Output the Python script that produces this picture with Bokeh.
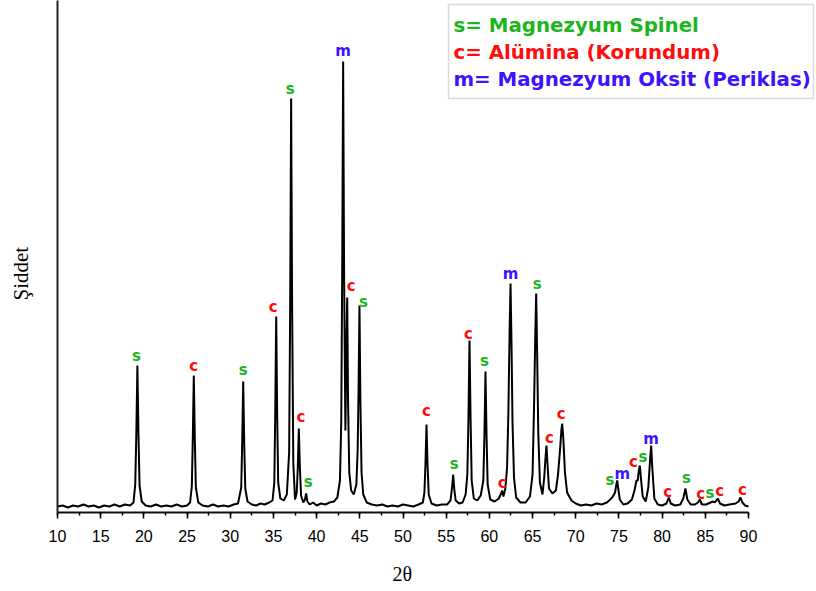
import math
from bokeh.plotting import figure
from bokeh.models import (Range1d, LinearAxis, Label, BoxAnnotation, ColumnDataSource,
                          SingleIntervalTicker, FixedTicker, Title)
from bokeh.core.properties import value
from bokeh.embed import file_html
from bokeh.resources import INLINE

# ---------------- data ----------------
two_theta = [
    10.0, 10.6, 11.2, 11.8, 12.4, 13.0, 13.6, 14.2, 14.8, 15.4, 16.0, 16.6, 17.2, 17.8, 18.4,
    18.8, 19.0, 19.13, 19.25, 19.37, 19.5, 19.75,
    20.2, 20.8, 21.4, 22.0, 22.6, 23.2, 23.8, 24.4, 25.0,
    25.35, 25.55, 25.66, 25.78, 25.9, 26.02, 26.3,
    26.8, 27.4, 28.0, 28.6, 29.2, 29.8, 30.4, 30.9,
    31.27, 31.38, 31.5, 31.62, 31.74, 32.0,
    32.5, 33.0, 33.5, 34.0, 34.5, 34.9,
    35.1, 35.21, 35.32, 35.43, 35.55, 35.8, 36.2, 36.55,
    36.82, 36.94, 37.05, 37.16, 37.3, 37.5,
    37.7, 37.82, 37.94, 38.06, 38.2, 38.45,
    38.65, 38.79, 38.93, 39.2, 39.6, 40.0, 40.5, 41.0, 41.5, 42.0, 42.4,
    42.7, 42.85, 42.96, 43.07, 43.18, 43.33, 43.44, 43.54, 43.64, 43.78, 44.0, 44.3,
    44.6, 44.75, 44.86, 44.96, 45.07, 45.2, 45.4, 45.8,
    46.4, 47.0, 47.6, 48.2, 48.8, 49.4, 50.0, 50.6, 51.2, 51.8,
    52.3, 52.48, 52.6, 52.72, 52.84, 52.98, 53.3,
    53.9, 54.5, 55.1, 55.5, 55.68, 55.81, 55.94, 56.1, 56.5, 56.9,
    57.25, 57.45, 57.58, 57.7, 57.82, 57.95, 58.2, 58.6,
    59.0, 59.3, 59.43, 59.55, 59.67, 59.8, 60.1, 60.6,
    61.1, 61.35, 61.48, 61.62, 61.85,
    62.05, 62.2, 62.34, 62.45, 62.56, 62.68, 62.85, 63.1, 63.6, 64.2,
    64.7, 65.0, 65.18, 65.31, 65.42, 65.53, 65.66, 65.85,
    66.15, 66.35, 66.5, 66.61, 66.72, 66.9, 67.3,
    67.7, 67.95, 68.2, 68.33, 68.43, 68.56, 68.75, 69.0, 69.5,
    70.0, 70.6, 71.2, 71.8, 72.4, 73.0, 73.6,
    74.0, 74.3, 74.55, 74.7, 74.8, 74.92, 75.1, 75.5, 76.0,
    76.5, 76.8, 77.03, 77.18, 77.3, 77.42, 77.55, 77.75, 78.1,
    78.4, 78.6, 78.73, 78.86, 79.1, 79.5, 80.0, 80.5,
    80.77, 81.0, 81.5, 82.1, 82.45, 82.7, 82.92, 83.3, 83.8,
    84.15, 84.36, 84.6, 85.1, 85.6, 85.9, 86.1, 86.44, 86.7, 87.2,
    87.8, 88.5, 88.85, 89.07, 89.3, 89.6, 90.0,
]
intensity = [
    6, 7, 5, 7, 6, 8, 6, 7, 5, 7, 6, 8, 6, 8, 7,
    10, 28, 80, 147, 80, 27, 11,
    7, 6, 8, 6, 7, 6, 8, 6, 7,
    10, 26, 72, 137, 72, 25, 10,
    7, 6, 8, 6, 7, 6, 8, 9,
    25, 68, 131, 68, 24, 11,
    8, 7, 9, 8, 10, 12,
    30, 100, 196, 100, 30, 14, 12, 18,
    60, 210, 414, 210, 50, 13,
    20, 45, 84, 45, 17, 10,
    13, 19, 11, 8, 10, 7, 9, 8, 10, 11, 15,
    32, 90, 240, 451, 240, 82, 160, 215, 110, 40, 22, 18,
    28, 62, 125, 207, 110, 40, 18, 10,
    8, 7, 8, 6, 7, 6, 8, 7, 6, 8,
    10, 20, 48, 88, 48, 18, 9,
    7, 8, 8, 12, 25, 38, 23, 12, 9, 10,
    18, 38, 95, 172, 95, 32, 14, 12,
    17, 32, 78, 141, 78, 28, 13, 11,
    14, 19, 22, 16, 24,
    45, 100, 180, 229, 170, 90, 35, 15, 10, 10,
    16, 38, 110, 175, 219, 160, 80, 30,
    18, 35, 55, 67, 50, 24, 19,
    22, 38, 65, 82, 89, 74, 40, 20, 12,
    9, 7, 8, 7, 9, 8, 10,
    13, 16, 20, 28, 32, 24, 13, 8, 9,
    13, 22, 32, 32, 42, 47, 34, 16, 11,
    25, 52, 67, 45, 14, 8, 7, 9,
    15, 9, 7, 8, 14, 24, 13, 8, 8,
    10, 13, 8, 8, 10, 11, 10, 14, 9, 7,
    8, 9, 11, 15, 10, 7, 6,
]

# labelled reflections
peak_2theta = [19.25, 25.78, 31.5, 35.32, 37.05, 37.94, 38.79, 43.07, 43.54, 44.96,
               52.72, 55.81, 57.7, 59.55, 61.48, 62.45, 65.42, 66.61, 68.43, 74.3,
               74.8, 77.03, 77.42, 78.73, 80.77, 82.7, 84.36, 85.9, 86.44, 89.07]
peak_top = [147, 137, 131, 196, 414, 84, 19, 451, 215, 207,
            88, 38, 172, 141, 22, 229, 219, 67, 89, 16,
            32, 32, 47, 67, 15, 24, 13, 11, 14, 15]
peak_phase = ["s", "c", "s", "c", "s", "c", "s", "m", "c", "s",
              "c", "s", "c", "s", "c", "m", "s", "c", "c", "s",
              "m", "c", "s", "m", "c", "s", "c", "s", "c", "c"]

phase_codes = ["s", "c", "m"]
phase_names = ["s= Magnezyum Spinel", "c= Alümina (Korundum)", "m= Magnezyum Oksit (Periklas)"]

x_ticks_start, x_ticks_end, x_tick_step = 10, 90, 5
x_label = "2θ"
y_label = "Şiddet"

# ---------------- layout / style ----------------
phase_colors = {"s": "#1db51d", "c": "#ff0d0d", "m": "#3a14ff"}
W, H = 816, 591
B_LEFT, B_RIGHT, B_TOP, B_BOTTOM = 57, 2, 0, 79
AXIS_END_PX = 748
FRAME_W = W - B_LEFT - B_RIGHT
FRAME_H = H - B_TOP - B_BOTTOM
px_per_x = (AXIS_END_PX - B_LEFT) / (x_ticks_end - x_ticks_start)
x_end = x_ticks_start + FRAME_W / px_per_x
y_start, y_end = 0, FRAME_H  # 1 intensity unit == 1 px


def X(px):  # canvas px -> data x
    return x_ticks_start + (px - B_LEFT) / px_per_x


def Y(py):  # canvas py -> data y
    return y_end - (py - B_TOP)


# label nudges in screen px (dx right, dy up from peak top)
label_dx = [-1, 0, 0, -3, -1, 2, 2, 0, 4, 4, 0, 1, -1, -1, 0, 0, 1, 3, -1, -3,
            5, -3, 3, 0, -1, 1, 1, -3, 2, 2]
label_dy = [10, 10, 12, 10, 10, 12, 12, 11, 12, 4, 14, 11, 7, 11, 8, 10, 10, 8, 10, 17,
            7, 19, 9, 7, 6, 11, 6, 9, 8, 8]

p = figure(width=W, height=H, output_backend="svg", toolbar_location=None,
           x_range=Range1d(x_ticks_start, x_end), y_range=Range1d(y_start, y_end),
           x_axis_type=None, y_axis_type=None,
           min_border_left=B_LEFT, min_border_right=B_RIGHT,
           min_border_top=B_TOP, min_border_bottom=B_BOTTOM)
p.outline_line_color = None
p.background_fill_color = "white"
p.border_fill_color = "white"

xaxis = LinearAxis(bounds=(x_ticks_start, x_ticks_end),
                   ticker=SingleIntervalTicker(interval=x_tick_step, num_minor_ticks=2))
xaxis.axis_line_width = 2
xaxis.axis_line_color = "#111111"
xaxis.major_tick_line_width = 1.5
xaxis.minor_tick_line_width = 1.5
xaxis.major_tick_in = 0
xaxis.major_tick_out = 6
xaxis.minor_tick_in = 0
xaxis.minor_tick_out = 3
xaxis.major_label_text_font = "Liberation Sans"
xaxis.major_label_text_font_size = "16px"
xaxis.major_label_text_color = "black"
xaxis.major_label_standoff = 11
# blank spacer label: pushes the title panel further from the axis
xaxis.axis_label = " "
xaxis.axis_label_text_font_size = "10px"
xaxis.axis_label_standoff = 2
p.add_layout(xaxis, "below")

yaxis = LinearAxis(ticker=FixedTicker(ticks=[]))
yaxis.axis_line_width = 2
yaxis.axis_line_color = "#222222"
yaxis.major_tick_out = 0
yaxis.major_tick_in = 0
yaxis.minor_tick_out = 0
yaxis.minor_tick_in = 0
yaxis.major_label_text_font_size = "0px"
yaxis.major_label_standoff = 0
yaxis.axis_label = " "
yaxis.axis_label_text_font_size = "12px"
yaxis.axis_label_standoff = 5
p.add_layout(yaxis, "left")

# axis titles as side titles (annotations inside the frame get clipped)
p.add_layout(Title(text=x_label, align="left", offset=392 - B_LEFT,
                   text_font="Liberation Serif", text_font_size="20px",
                   text_font_style="normal", text_color="black",
                   vertical_align="top", standoff=4), "below")
p.add_layout(Title(text=y_label, align="left", offset=(H - B_BOTTOM) - 300,
                   text_font="Liberation Serif", text_font_size="21px",
                   text_font_style="normal", text_color="black",
                   vertical_align="middle", standoff=4), "left")

p.line(two_theta, intensity, line_color="black", line_width=2)

src = ColumnDataSource(dict(
    x=[px + dx / px_per_x for px, dx in zip(peak_2theta, label_dx)],
    y=[t + dy for t, dy in zip(peak_top, label_dy)],
    text=peak_phase,
    color=[phase_colors[k] for k in peak_phase],
))
p.text(x="x", y="y", text="text", text_color="color", source=src,
       text_font=value("DejaVu Sans"), text_font_style="bold", text_font_size="15px",
       text_align="center", text_baseline="middle")

# legend box
p.add_layout(BoxAnnotation(left=X(448), right=X(813), top=Y(4), bottom=Y(98),
                           fill_color="white", fill_alpha=1.0,
                           line_color="#808080", line_width=1.5))
for i, (code, name) in enumerate(zip(phase_codes, phase_names)):
    p.add_layout(Label(x=X(453), y=Y(25 + 27 * i), text=name,
                       text_font="DejaVu Sans", text_font_style="bold",
                       text_font_size="19.8px", text_color=phase_colors[code],
                       text_align="left", text_baseline="middle"))

open("out.html", "w").write(file_html(p, INLINE))
